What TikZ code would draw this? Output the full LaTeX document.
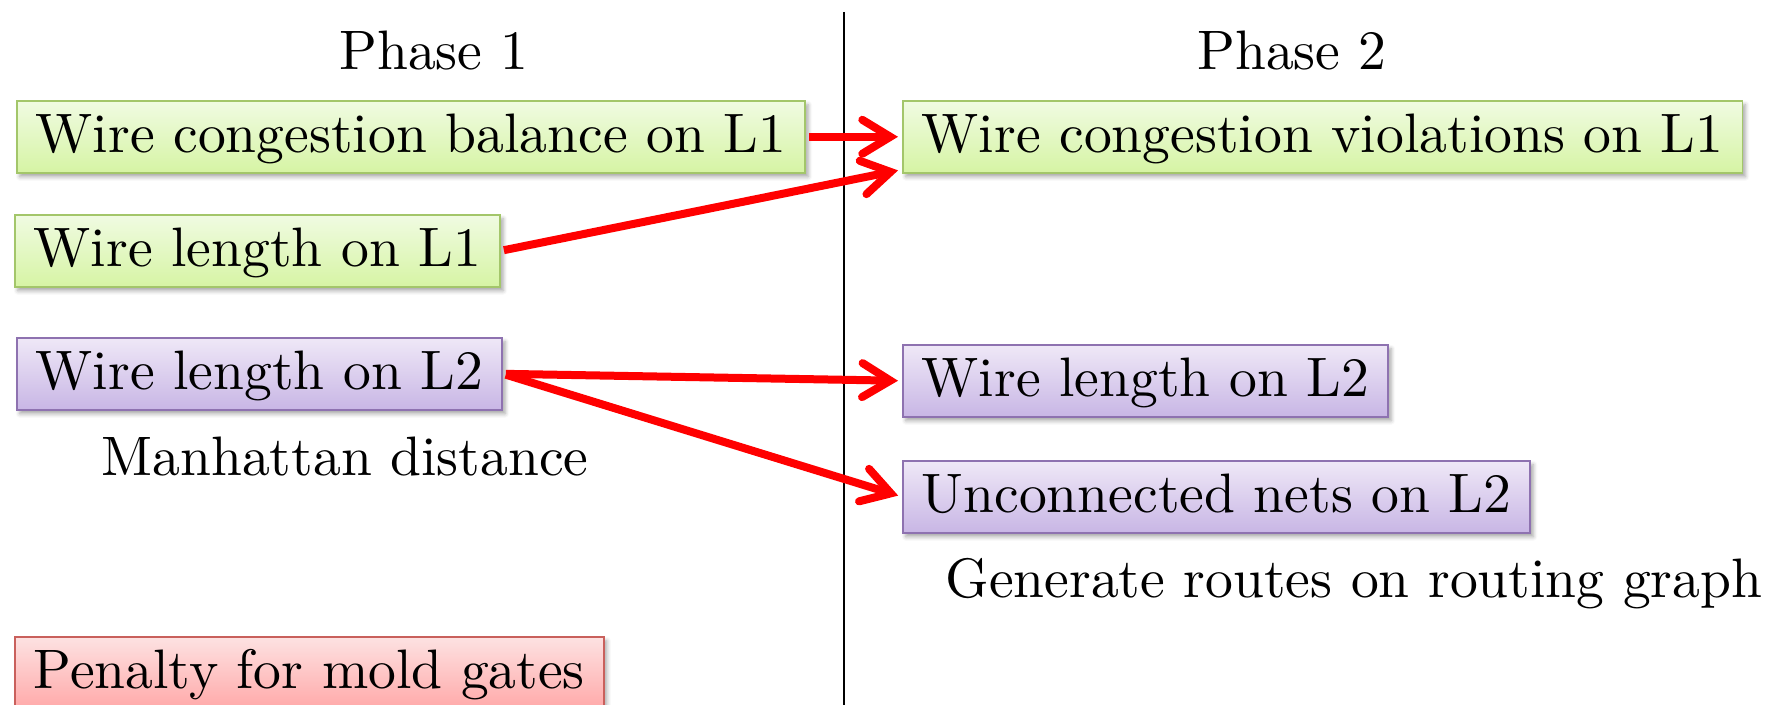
\documentclass[tikz,border=0pt]{standalone}
\usepackage{fontspec}
\newfontfamily\boxfont{lmroman10-regular}[Extension=.otf]
\usetikzlibrary{arrows.meta,shadows.blur}

\definecolor{grnTop}{HTML}{F0FBE2}
\definecolor{grnBot}{HTML}{D6F4A4}
\definecolor{grnLine}{HTML}{A3C66A}
\definecolor{prpTop}{HTML}{EFE8F7}
\definecolor{prpBot}{HTML}{C8B6E5}
\definecolor{prpLine}{HTML}{8E72B0}
\definecolor{redTop}{HTML}{FDE2E2}
\definecolor{redBot}{HTML}{FFA9A9}
\definecolor{redLine}{HTML}{C9605C}
\definecolor{arrRed}{HTML}{FF0000}

\tikzset{
  txt/.style={font=\boxfont\fontsize{27.8}{33}\selectfont, inner sep=0pt},
  costbox/.style={txt, rectangle, draw, line width=0.8pt,
    anchor=north west, inner xsep=9.5pt, inner ysep=4pt,
    text height=22pt, text depth=6pt,
    blur shadow={shadow xshift=1.5pt, shadow yshift=-2pt,
      shadow blur radius=2pt, shadow opacity=35}},
  greenbox/.style={costbox, draw=grnLine, top color=grnTop, bottom color=grnBot},
  purplebox/.style={costbox, draw=prpLine, top color=prpTop, bottom color=prpBot},
  redbox/.style={costbox, draw=redLine, top color=redTop, bottom color=redBot},
  link/.style={draw=arrRed, line width=4pt,
    -{Straight Barb[length=14pt, width=17pt, line cap=round]},
    shorten <=1.5pt, shorten >=2pt}
}

\begin{document}
\begin{tikzpicture}[x=0.5pt, y=-0.5pt]
  \useasboundingbox (0,0) rectangle (1775,705);

  % phase divider
  \coordinate (divTop) at (844,12);
  \coordinate (divBot) at (844,705);
  \draw[line width=1pt] (divTop) -- (divBot);

  % column headings
  \node[txt, anchor=base] (ph1) at (434,70) {Phase 1};
  \node[txt, anchor=base] (ph2) at (1292,70) {Phase 2};

  % phase 1 cost terms
  \node[greenbox]  (A) at (16,100) {Wire congestion balance on L1};
  \node[greenbox]  (B) at (14,214) {Wire length on L1};
  \node[purplebox] (C) at (16,337) {Wire length on L2};
  \node[txt, anchor=base] (manh) at (345,475) {Manhattan distance};
  \node[redbox]    (D) at (14,636) {Penalty for mold gates};

  % phase 2 cost terms
  \node[greenbox]  (E) at (902,100) {Wire congestion violations on L1};
  \node[purplebox] (F) at (902,344) {Wire length on L2};
  \node[purplebox] (G) at (902,460) {Unconnected nets on L2};
  \node[txt, anchor=base west] (gen) at (945,597) {Generate routes on routing graph};

  % correspondences between the phases
  \coordinate (Ein) at ([yshift=2pt]E.south west);
  \draw[link] (A.east) -- (E.west);
  \draw[link] (B.east) -- (Ein);
  \draw[link] (C.east) -- (F.west);
  \draw[link] (C.east) -- (G.west);
\end{tikzpicture}
\end{document}
